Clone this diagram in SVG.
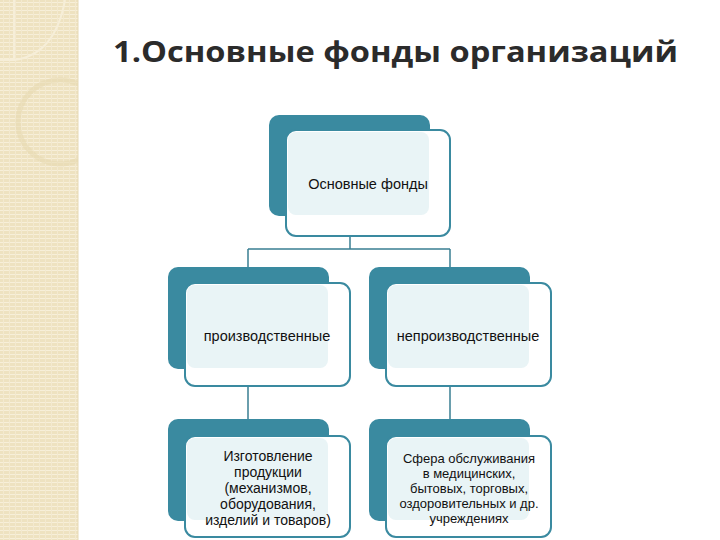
<svg xmlns="http://www.w3.org/2000/svg" width="720" height="540" viewBox="0 0 720 540">
<defs>
<pattern id="stripes" width="6" height="4" patternUnits="userSpaceOnUse">
<rect width="6" height="4" fill="#eee2c0"/>
<rect y="2" width="6" height="1" fill="#f7efd9"/>
<rect x="3" width="1" height="4" fill="#f3e9cf"/>
</pattern>
<clipPath id="strip"><rect x="0" y="0" width="78" height="540"/></clipPath>
</defs>
<style>
.dark{fill:#3a8aa0}
.box{fill:#ffffff;stroke:#3a8aa0;stroke-width:2}
.lt{fill:#e9f4f6}
.t{font-family:"Liberation Sans",Arial,sans-serif;font-size:14.5px;fill:#111;text-anchor:middle}
.s{font-size:14px}
.c{fill:none;stroke:#3a7f93;stroke-width:1.5}
</style>
<rect width="720" height="540" fill="#ffffff"/>
<g id="background" clip-path="url(#strip)">
<rect x="0" y="0" width="78" height="540" fill="url(#stripes)"/>
<path d="M0,60 H14 V0" fill="none" stroke="#f6eed8" stroke-width="2"/>
<path d="M14,60 Q55,55 65,0" fill="none" stroke="#f6eed8" stroke-width="2"/>
<circle cx="60" cy="122" r="42" fill="none" stroke="#e6d8ae" stroke-width="5" opacity="0.5"/>
</g>
<line x1="78" y1="0" x2="78" y2="540" stroke="#e6d9b5" stroke-width="1"/>
<text x="113" y="62" font-family="'Open Sans','Liberation Sans',sans-serif" font-size="28" font-weight="bold" fill="#2b2b2b" textLength="565" lengthAdjust="spacingAndGlyphs">1.Основные фонды организаций</text>
<g id="connectors" class="c">
<path d="M350,236 V249 M248,249 H450 M248,249 V267 M450,249 V267"/>
<path d="M248,386 V419 M450,386 V419"/>
</g>
<g id="n0">
<rect class="dark" x="269" y="115" width="161" height="101" rx="10"/>
<rect class="box" x="286" y="130" width="164" height="106" rx="10"/>
<rect class="lt" x="288" y="132" width="141" height="83" rx="8"/>
<text class="t" x="368" y="189">Основные фонды</text>
</g>
<g id="n1">
<rect class="dark" x="168" y="267" width="161" height="102" rx="10"/>
<rect class="box" x="185" y="283" width="165" height="103" rx="10"/>
<rect class="lt" x="187" y="285" width="141" height="83" rx="8"/>
<text class="t" x="267" y="341">производственные</text>
</g>
<g id="n2">
<rect class="dark" x="369" y="267" width="161" height="102" rx="10"/>
<rect class="box" x="386" y="283" width="165" height="103" rx="10"/>
<rect class="lt" x="388" y="285" width="141" height="83" rx="8"/>
<text class="t" x="468" y="341">непроизводственные</text>
</g>
<g id="n3">
<rect class="dark" x="168" y="419" width="161" height="102" rx="10"/>
<rect class="box" x="185" y="436" width="165" height="101" rx="10"/>
<rect class="lt" x="187" y="438" width="141" height="82" rx="8"/>
<text class="t s" x="268" y="461">Изготовление<tspan x="268" dy="16">продукции</tspan><tspan x="268" dy="16">(механизмов,</tspan><tspan x="268" dy="16">оборудования,</tspan><tspan x="268" dy="16">изделий и товаров)</tspan></text>
</g>
<g id="n4">
<rect class="dark" x="369" y="419" width="161" height="102" rx="10"/>
<rect class="box" x="386" y="436" width="165" height="101" rx="10"/>
<rect class="lt" x="388" y="438" width="141" height="82" rx="8"/>
<text class="t" x="469" y="463" style="font-size:13px">Сфера обслуживания<tspan x="469" dy="15">в медицинских,</tspan><tspan x="469" dy="15">бытовых, торговых,</tspan><tspan x="469" dy="15">оздоровительных и др.</tspan><tspan x="469" dy="15">учреждениях</tspan></text>
</g>
</svg>
